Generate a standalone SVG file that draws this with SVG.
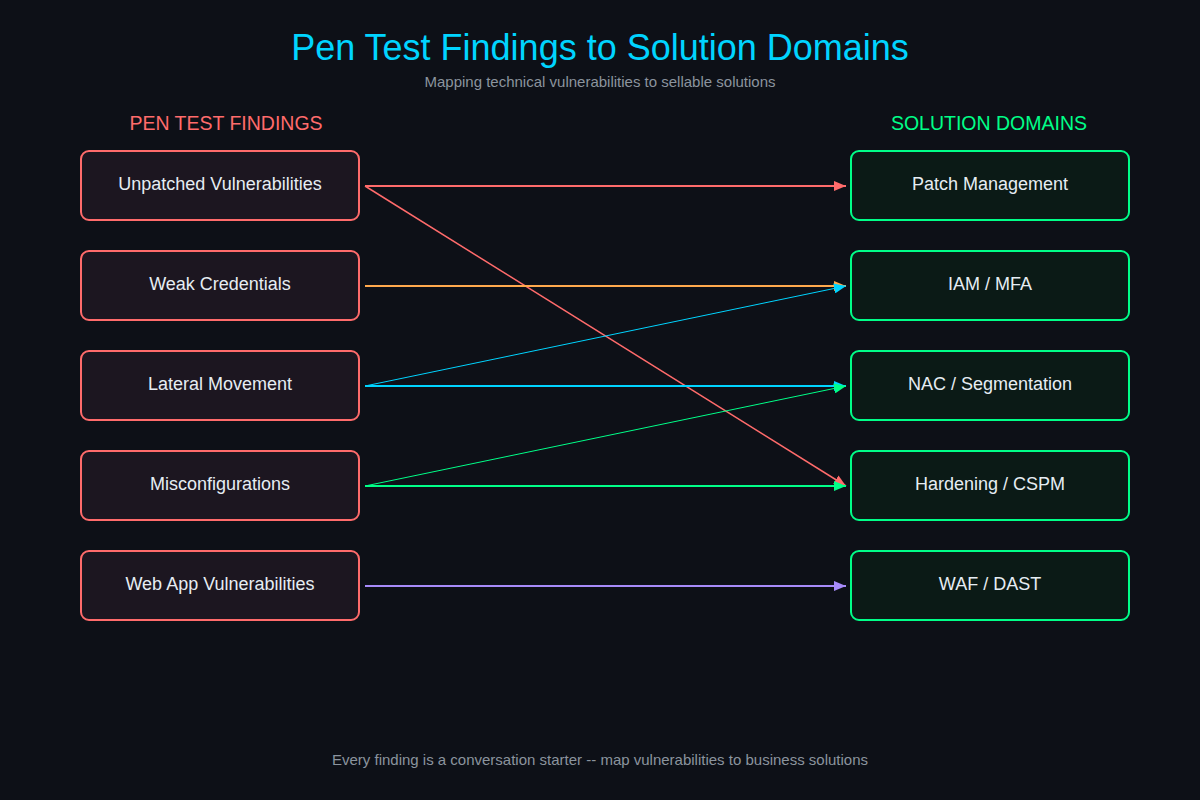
<svg xmlns="http://www.w3.org/2000/svg" width="1200" height="800" viewBox="0 0 1200 800">
  <defs>
    <style>
      text { font-family: "Liberation Sans", Arial, sans-serif; }
      .title { font-size: 36px; fill: #00d4ff; text-anchor: middle; }
      .sub { font-size: 15px; fill: #8b949e; text-anchor: middle; }
      .hdr { font-size: 19.5px; text-anchor: middle; }
      .lbl { font-size: 18px; fill: #e6edf3; text-anchor: middle; }
      .find rect { fill: #1c1620; stroke: #ff6b6b; stroke-width: 2; }
      .sol rect { fill: #0b1a16; stroke: #00ff88; stroke-width: 2; }
      .conn line { fill: none; }
    </style>
    <marker id="a-red" viewBox="0 0 12 10" refX="12" refY="5" markerWidth="12" markerHeight="10" markerUnits="userSpaceOnUse" orient="auto"><path d="M0,0 L12,5 L0,10 z" fill="#ff6b6b"/></marker>
    <marker id="a-orange" viewBox="0 0 12 10" refX="12" refY="5" markerWidth="12" markerHeight="10" markerUnits="userSpaceOnUse" orient="auto"><path d="M0,0 L12,5 L0,10 z" fill="#ffa94d"/></marker>
    <marker id="a-cyan" viewBox="0 0 12 10" refX="12" refY="5" markerWidth="12" markerHeight="10" markerUnits="userSpaceOnUse" orient="auto"><path d="M0,0 L12,5 L0,10 z" fill="#00d4ff"/></marker>
    <marker id="a-green" viewBox="0 0 12 10" refX="12" refY="5" markerWidth="12" markerHeight="10" markerUnits="userSpaceOnUse" orient="auto"><path d="M0,0 L12,5 L0,10 z" fill="#00ff88"/></marker>
    <marker id="a-purple" viewBox="0 0 12 10" refX="12" refY="5" markerWidth="12" markerHeight="10" markerUnits="userSpaceOnUse" orient="auto"><path d="M0,0 L12,5 L0,10 z" fill="#a78bfa"/></marker>
  </defs>
  <rect x="0" y="0" width="1200" height="800" fill="#0d1017"/>

  <text class="title" x="600" y="60">Pen Test Findings to Solution Domains</text>
  <text class="sub" x="600" y="87">Mapping technical vulnerabilities to sellable solutions</text>

  <text class="hdr" x="226" y="130" fill="#ff6b6b">PEN TEST FINDINGS</text>
  <text class="hdr" x="989" y="130" fill="#00ff88">SOLUTION DOMAINS</text>

  <g id="finding-unpatched" class="find"><rect x="81" y="151" width="278" height="69" rx="8"/><text class="lbl" x="220" y="190">Unpatched Vulnerabilities</text></g>
  <g id="finding-weak-creds" class="find"><rect x="81" y="251" width="278" height="69" rx="8"/><text class="lbl" x="220" y="290">Weak Credentials</text></g>
  <g id="finding-lateral" class="find"><rect x="81" y="351" width="278" height="69" rx="8"/><text class="lbl" x="220" y="390">Lateral Movement</text></g>
  <g id="finding-misconfig" class="find"><rect x="81" y="451" width="278" height="69" rx="8"/><text class="lbl" x="220" y="490">Misconfigurations</text></g>
  <g id="finding-webapp" class="find"><rect x="81" y="551" width="278" height="69" rx="8"/><text class="lbl" x="220" y="590">Web App Vulnerabilities</text></g>

  <g id="solution-patch" class="sol"><rect x="851" y="151" width="278" height="69" rx="8"/><text class="lbl" x="990" y="190">Patch Management</text></g>
  <g id="solution-iam" class="sol"><rect x="851" y="251" width="278" height="69" rx="8"/><text class="lbl" x="990" y="290">IAM / MFA</text></g>
  <g id="solution-nac" class="sol"><rect x="851" y="351" width="278" height="69" rx="8"/><text class="lbl" x="990" y="390">NAC / Segmentation</text></g>
  <g id="solution-hardening" class="sol"><rect x="851" y="451" width="278" height="69" rx="8"/><text class="lbl" x="990" y="490">Hardening / CSPM</text></g>
  <g id="solution-waf" class="sol"><rect x="851" y="551" width="278" height="69" rx="8"/><text class="lbl" x="990" y="590">WAF / DAST</text></g>

  <g id="connectors" class="conn">
    <line x1="365" y1="186" x2="846" y2="186" stroke="#ff6b6b" stroke-width="2" marker-end="url(#a-red)"/>
    <line x1="365" y1="186" x2="846" y2="486" stroke="#ff6b6b" stroke-width="1.5" marker-end="url(#a-red)"/>
    <line x1="365" y1="286" x2="846" y2="286" stroke="#ffa94d" stroke-width="2" marker-end="url(#a-orange)"/>
    <line x1="365" y1="386" x2="846" y2="286" stroke="#00d4ff" stroke-width="1" marker-end="url(#a-cyan)"/>
    <line x1="365" y1="386" x2="846" y2="386" stroke="#00d4ff" stroke-width="2" marker-end="url(#a-cyan)"/>
    <line x1="365" y1="486" x2="846" y2="386" stroke="#00ff88" stroke-width="1" marker-end="url(#a-green)"/>
    <line x1="365" y1="486" x2="846" y2="486" stroke="#00ff88" stroke-width="2" marker-end="url(#a-green)"/>
    <line x1="365" y1="586" x2="846" y2="586" stroke="#a78bfa" stroke-width="2" marker-end="url(#a-purple)"/>
  </g>

  <text class="sub" x="600" y="765">Every finding is a conversation starter -- map vulnerabilities to business solutions</text>
</svg>
